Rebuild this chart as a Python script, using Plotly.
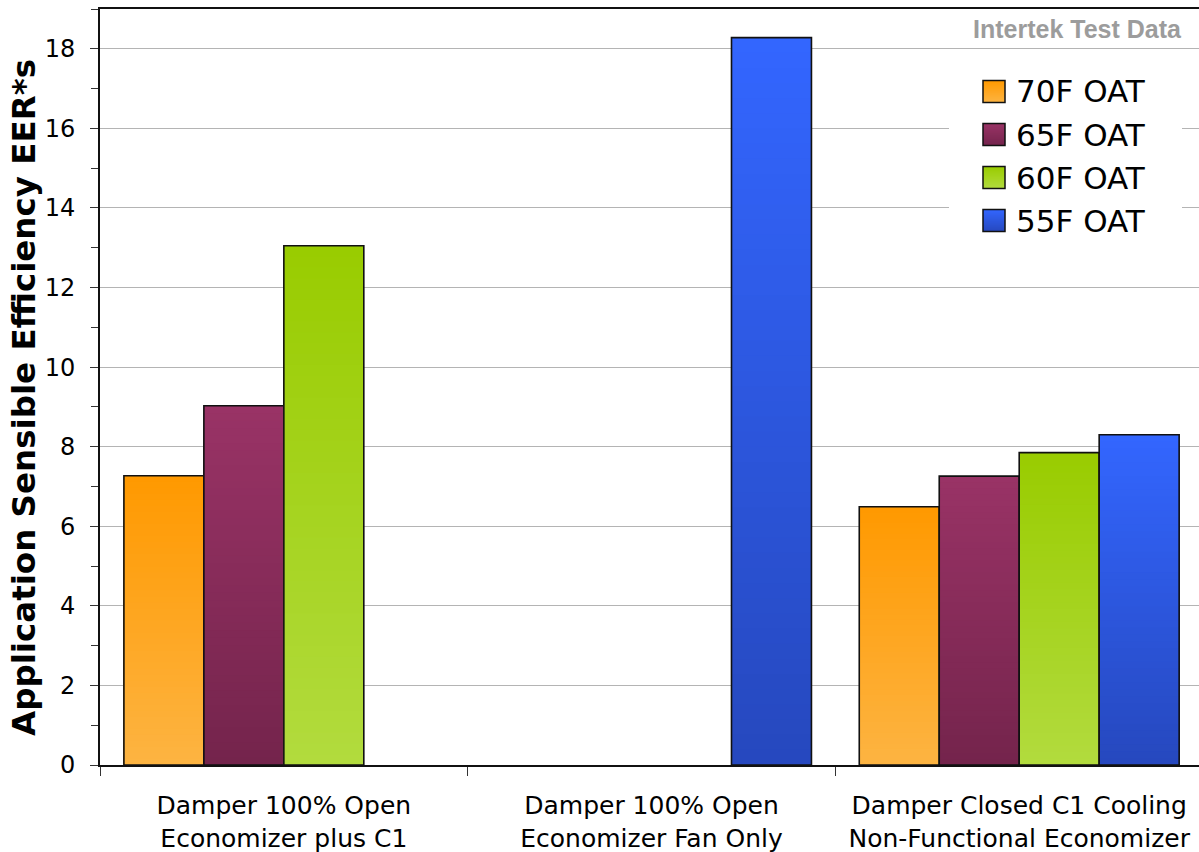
import plotly.graph_objects as go

# Test conditions (x categories)
categories = [
    "Damper 100% Open<br>Economizer plus C1",
    "Damper 100% Open<br>Economizer Fan Only",
    "Damper Closed C1 Cooling<br>Non-Functional Economizer",
]

# Outside-air temperature series
series_names = ["70F OAT", "65F OAT", "60F OAT", "55F OAT"]

# Application sensible efficiency (EER*s) per condition
eer_70f = [7.27, None, 6.49]
eer_65f = [9.03, None, 7.26]
eer_60f = [13.05, None, 7.85]
eer_55f = [None, 18.28, 8.30]

y_tick_values = [0, 2, 4, 6, 8, 10, 12, 14, 16, 18]

series_values = [eer_70f, eer_65f, eer_60f, eer_55f]

# Vertical fill gradients: (top colour, bottom colour)
gradients = {
    "70F OAT": ((255, 153, 0), (253, 180, 66)),
    "65F OAT": ((153, 51, 102), (116, 36, 76)),
    "60F OAT": ((153, 204, 0), (178, 219, 62)),
    "55F OAT": ((51, 102, 255), (38, 72, 190)),
}

W, H = 1199, 852
PLOT_L, PLOT_T, PLOT_B = 100, 9, 765


def px_x(x):
    return (x - PLOT_L) / (W - PLOT_L)


def px_y(y):
    return (PLOT_B - y) / (PLOT_B - PLOT_T)


def blend(top, bottom, f):
    """Colour at fraction f of the height (0 = bottom, 1 = top)."""
    c = [round(b + (t - b) * f) for t, b in zip(top, bottom)]
    return f"rgb({c[0]},{c[1]},{c[2]})"


N_STEPS = 48
fig = go.Figure()

for name, vals in zip(series_names, series_values):
    top, bottom = gradients[name]
    # Layered bars, each shorter than the last, give a smooth vertical gradient
    for j in range(N_STEPS):
        frac_hi = (N_STEPS - j) / N_STEPS
        f_col = (N_STEPS - j - 0.5) / N_STEPS
        fig.add_trace(go.Bar(
            x=categories,
            y=[v * frac_hi if v is not None else None for v in vals],
            offsetgroup=name,
            marker=dict(color=blend(top, bottom, f_col), line=dict(width=0)),
            showlegend=False,
            hoverinfo="skip",
        ))
    # Outline of the full bar
    fig.add_trace(go.Bar(
        x=categories,
        y=vals,
        name=name,
        offsetgroup=name,
        marker=dict(color="rgba(0,0,0,0)", line=dict(color="#111111", width=1.6)),
        showlegend=False,
    ))

shapes = []
annotations = []

# Legend panel
shapes.append(dict(
    type="rect", xref="paper", yref="paper", layer="above",
    x0=px_x(949), x1=px_x(1182), y0=px_y(243), y1=px_y(62),
    fillcolor="white", line=dict(width=0),
))
SW = 22
for i, name in enumerate(series_names):
    cy = 91.5 + 43 * i
    top, bottom = gradients[name]
    y_top, y_bot = cy - SW / 2, cy + SW / 2
    m = 11
    for k in range(m):
        shapes.append(dict(
            type="rect", xref="paper", yref="paper", layer="above",
            x0=px_x(983), x1=px_x(983 + SW),
            y0=px_y(y_bot), y1=px_y(y_top + k * SW / m),
            fillcolor=blend(top, bottom, 1 - (k + 0.5) / m), line=dict(width=0),
        ))
    shapes.append(dict(
        type="rect", xref="paper", yref="paper", layer="above",
        x0=px_x(983), x1=px_x(983 + SW), y0=px_y(y_bot), y1=px_y(y_top),
        fillcolor="rgba(0,0,0,0)", line=dict(color="#111111", width=1.5),
    ))
    annotations.append(dict(
        text=name, xref="paper", yref="paper",
        x=px_x(1014), y=px_y(cy), xanchor="left", yanchor="middle",
        showarrow=False, font=dict(family="DejaVu Sans", size=31, color="black"),
    ))

# Data source note
annotations.append(dict(
    text="Intertek Test Data", xref="paper", yref="paper",
    x=px_x(1184), y=px_y(29), xanchor="right", yanchor="middle",
    showarrow=False,
    font=dict(family="Liberation Sans", size=25, color="#9c9c9c", weight="bold"),
))

# Y axis title
annotations.append(dict(
    text="Application Sensible Efficiency EER*s", xref="paper", yref="paper",
    x=px_x(24), y=px_y(398), xanchor="center", yanchor="middle",
    textangle=-90, showarrow=False,
    font=dict(family="DejaVu Sans", size=32.5, color="black", weight="bold"),
))

fig.update_layout(
    width=W, height=H,
    margin=dict(l=PLOT_L, r=0, t=PLOT_T, b=H - PLOT_B, pad=0),
    paper_bgcolor="white", plot_bgcolor="white",
    barmode="group", bargap=0.13, bargroupgap=0,
    showlegend=False,
    shapes=shapes, annotations=annotations,
    font=dict(family="DejaVu Sans", color="black"),
)

fig.update_xaxes(
    type="category", range=[-0.5, 2.489],
    tickson="boundaries", ticks="outside", ticklen=9, tickwidth=1, tickcolor="#333",
    showgrid=False, showline=True, linecolor="#111111", linewidth=2, mirror=True,
    tickfont=dict(family="DejaVu Sans", size=25, color="black"),
    ticklabelstandoff=17,
)

fig.update_yaxes(
    range=[0, 19], tickvals=y_tick_values,
    ticks="outside", ticklen=8, tickwidth=1, tickcolor="#333",
    minor=dict(dtick=1, ticks="outside", ticklen=7, tickwidth=1, tickcolor="#333", showgrid=False),
    showgrid=True, gridcolor="#b4b4b4", gridwidth=1,
    zeroline=False, showline=True, linecolor="#111111", linewidth=2,
    tickfont=dict(family="DejaVu Sans", size=24, color="black"),
    ticklabelstandoff=10,
)

fig.write_html("out.html")
